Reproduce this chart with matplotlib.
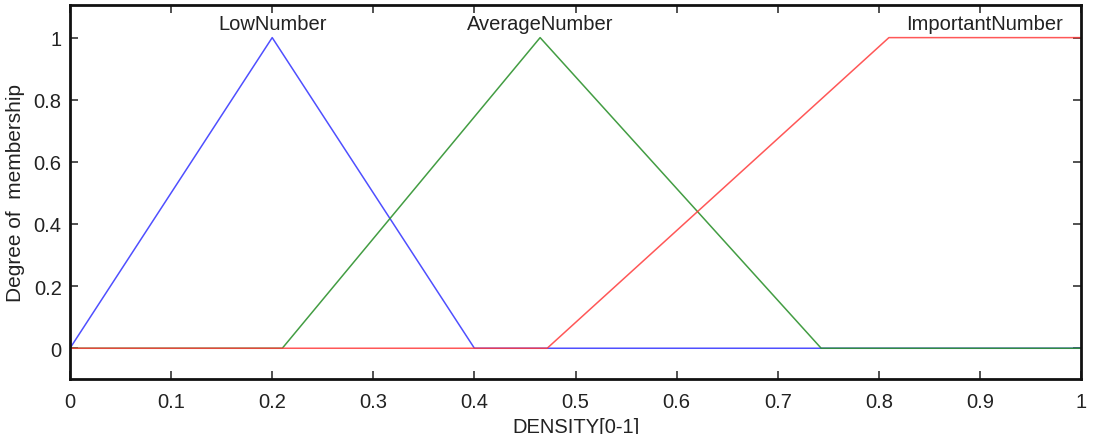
import matplotlib
matplotlib.use("Agg")
import matplotlib.pyplot as plt

plt.rcParams['font.family'] = ['Liberation Sans', 'DejaVu Sans']

# membership functions (x breakpoints, y values)
low_x = [0.0, 0.2, 0.4, 1.0]
low_y = [0.0, 1.0, 0.0, 0.0]
avg_x = [0.0, 0.21, 0.465, 0.743, 1.0]
avg_y = [0.0, 0.0, 1.0, 0.0, 0.0]
imp_x = [0.0, 0.472, 0.81, 1.0]
imp_y = [0.0, 0.0, 1.0, 1.0]

names = ["LowNumber", "AverageNumber", "ImportantNumber"]
label_x = [0.2, 0.465, 0.905]
label_y = 1.047

xticks = [0, 0.1, 0.2, 0.3, 0.4, 0.5, 0.6, 0.7, 0.8, 0.9, 1]
xticklabels = ["0", "0.1", "0.2", "0.3", "0.4", "0.5", "0.6", "0.7", "0.8", "0.9", "1"]
yticks = [0, 0.2, 0.4, 0.6, 0.8, 1]
yticklabels = ["0", "0.2", "0.4", "0.6", "0.8", "1"]

fig = plt.figure(figsize=(10.96, 4.35), dpi=100)
ax = fig.add_axes([70/1096, 1-380/435, (1081-70)/1096, (380-6)/435])

ax.plot(low_x, low_y, color='#3c3cff', lw=1.1, alpha=0.9)
ax.plot(avg_x, avg_y, color='#2e922e', lw=1.1, alpha=0.9)
ax.plot(imp_x, imp_y, color='#ff3a3a', lw=1.1, alpha=0.85)

for n, lx in zip(names, label_x):
    ax.text(lx, label_y, n, ha='center', va='center', fontsize=14.5, color='#222222')

ax.set_xlim(0, 1)
ax.set_ylim(-0.099, 1.105)
ax.set_xticks(xticks)
ax.set_xticklabels(xticklabels)
ax.set_yticks(yticks)
ax.set_yticklabels(yticklabels)
ax.tick_params(axis='both', direction='in', length=6, width=1.1, labelsize=14.5,
               top=True, right=True, colors='#222222')
ax.tick_params(axis='x', pad=9)
ax.tick_params(axis='y', pad=6)
for s in ax.spines.values():
    s.set_linewidth(2)
    s.set_color('#111111')

ax.set_xlabel("DENSITY[0-1]", fontsize=14.5, labelpad=5, color='#222222')
ax.set_ylabel("Degree of  membership", fontsize=15, labelpad=6, color='#222222')

fig.savefig("out.png", dpi=100)
